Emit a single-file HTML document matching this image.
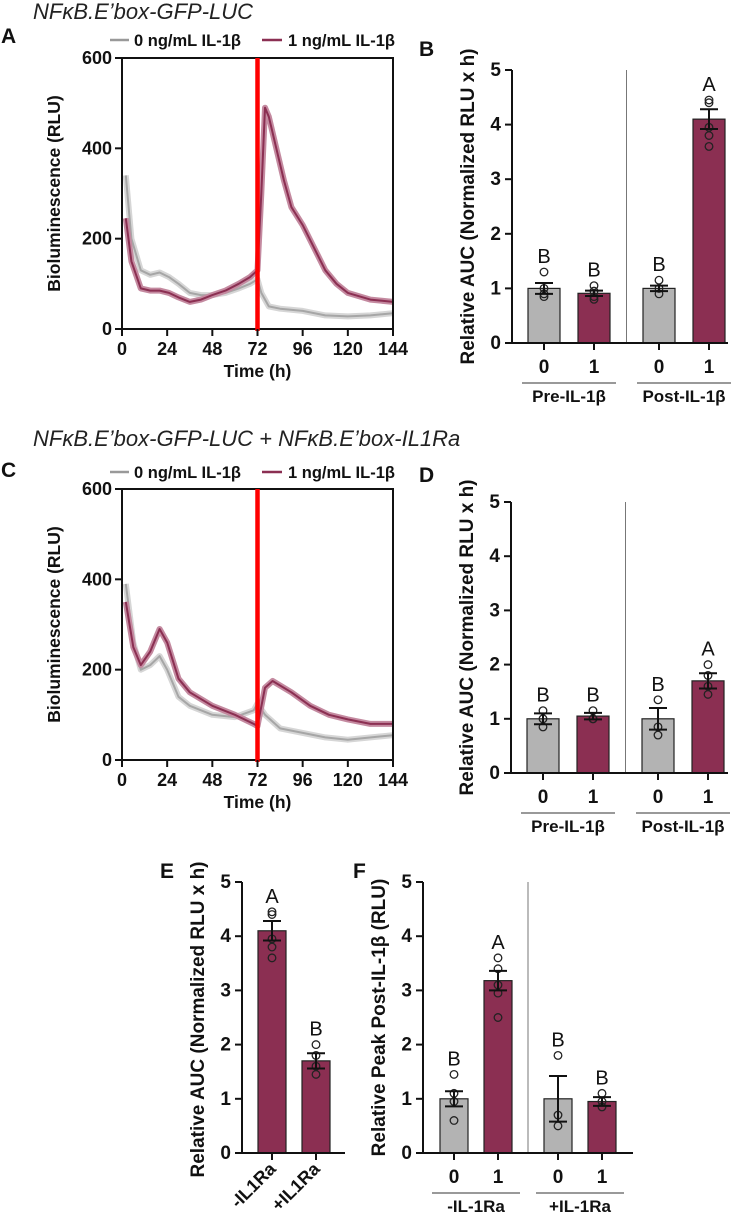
<!DOCTYPE html>
<html><head><meta charset="utf-8"><style>
body{margin:0;background:#fff}
svg{display:block;font-family:"Liberation Sans",Arial,sans-serif}
.t{font-weight:bold;fill:#111}
.pl{font-weight:bold;font-size:21px;fill:#111}
</style></head><body>
<svg id="fig" width="744" height="1220" viewBox="0 0 744 1220">
<text x="33" y="19" style="font-size:22px" font-style="italic" fill="#222">NFκB.E’box-GFP-LUC</text>
<text x="33" y="446" style="font-size:22px" font-style="italic" fill="#222">NFκB.E’box-GFP-LUC + NFκB.E’box-IL1Ra</text>
<text class="pl" x="1" y="43">A</text>
<text class="pl" x="419" y="56">B</text>
<text class="pl" x="1" y="477">C</text>
<text class="pl" x="419" y="482">D</text>
<text class="pl" x="160" y="878">E</text>
<text class="pl" x="353" y="878">F</text>
</svg>
<script>
const NS="http://www.w3.org/2000/svg";
const fig=document.getElementById('fig');
const MAROON="#8b2f52", GRAY="#b3b3b3";
// Panel A data
const timeA=[2,5,10,15,20,25,30,36,42,48,55,62,68,72,74,78,84,96,108,120,132,144];
const grayA=[340,200,130,120,125,115,100,80,75,75,80,90,100,110,80,50,45,40,30,28,30,35];
const timeAm=[2,5,10,15,20,25,30,36,42,48,55,62,68,72,74,76,78,82,86,90,96,102,108,114,120,132,144];
const maroonA=[245,150,90,85,85,80,70,60,65,75,85,100,115,130,300,490,470,400,330,270,230,180,130,100,80,65,60];
// Panel C data
const timeC=[2,6,10,15,20,24,30,36,48,60,70,72,76,84,96,108,120,144];
const grayC=[390,260,200,210,230,200,140,120,100,95,110,125,100,70,60,50,45,55];
const timeCm=[2,6,10,15,20,24,30,36,48,60,70,72,76,80,90,100,110,120,132,144];
const maroonC=[350,250,210,240,290,260,180,150,120,100,80,75,160,175,150,120,100,90,80,80];
const xTicks=[0,24,48,72,96,120,144];
const yTicksLine=[0,200,400,600];
// Bar data
const catsB=["0","1","0","1"];
const meanB=[1.0,0.91,1.0,4.1], semB=[0.1,0.05,0.05,0.18];
const dotsB=[[1.3,1.0,0.85,0.9],[1.05,0.95,0.85,0.8],[1.15,1.0,0.9],[4.45,4.4,3.95,3.8,3.6]];
const letB=["B","B","B","A"];
const meanD=[1.0,1.05,1.0,1.7], semD=[0.1,0.06,0.2,0.14];
const dotsD=[[1.15,1.0,0.85],[1.15,1.0,1.0],[1.35,0.85,0.7],[2.0,1.8,1.6,1.45]];
const letD=["B","B","B","A"];
const catsE=["-IL1Ra","+IL1Ra"];
const meanE=[4.1,1.7], semE=[0.18,0.14];
const dotsE=[[4.45,4.4,3.95,3.8,3.6],[2.0,1.8,1.6,1.45]];
const letE=["A","B"];
const meanF=[1.0,3.18,1.0,0.95], semF=[0.14,0.18,0.42,0.08];
const dotsF=[[1.45,1.1,0.95,0.6],[3.6,3.4,3.1,2.95,2.5],[1.8,0.7,0.5],[1.1,0.95,0.85]];
const letF=["B","A","B","B"];
const yTicksBar=[0,1,2,3,4,5];

function el(tag,attrs,parent){const e=document.createElementNS(NS,tag);for(const k in attrs)e.setAttribute(k,attrs[k]);(parent||fig).appendChild(e);return e;}
function txt(x,y,s,size,anchor,parent,weight){const t=el('text',{x:x,y:y,'class':'t','text-anchor':anchor||'middle'},parent);t.style.fontSize=(size||17)+'px';if(weight)t.style.fontWeight=weight;t.textContent=s;return t;}

function lineChart(p,tg,gv,tm,mv,legY){
  const sx=t=>p.x0+(p.x1-p.x0)*t/144, sy=v=>p.yb-(p.yb-p.yt)*v/600;
  const g=el('g',{});
  
  
  function series(ts,vs,col,band,name){
    const d=ts.map((t,i)=>(i?'L':'M')+sx(t).toFixed(1)+','+sy(vs[i]).toFixed(1)).join('');
    const b=el('path',{d:d,fill:'none',stroke:band,'stroke-width':6,'stroke-linejoin':'round'},g);
    
    
    const l=el('path',{d:d,fill:'none',stroke:col,'stroke-width':2,'stroke-linejoin':'round'},g);
    
    
  }
  series(tg,gv,'#a6a6a6','#d6d6d6','series-0ng');
  series(tm,mv,MAROON,'#c48aa0','series-1ng');
  el('rect',{x:p.x0,y:p.yt,width:p.x1-p.x0,height:p.yb-p.yt,fill:'none',stroke:'#111','stroke-width':2},g);
  const red=el('line',{x1:sx(72),x2:sx(72),y1:p.yt,y2:p.yb+2,stroke:'#ff0000','stroke-width':4.5},g);
  
  
  xTicks.forEach(t=>{el('line',{x1:sx(t),x2:sx(t),y1:p.yb,y2:p.yb+7,stroke:'#111','stroke-width':2},g);txt(sx(t),p.yb+26,String(t),18,'middle',g);});
  yTicksLine.forEach(v=>{el('line',{x1:p.x0-7,x2:p.x0,y1:sy(v),y2:sy(v),stroke:'#111','stroke-width':2},g);txt(p.x0-10,sy(v)+6,String(v),18,'end',g);});
  const yt=txt(0,0,'Bioluminescence (RLU)',17.5,'middle',g);
  yt.setAttribute('transform','translate('+(p.x0-62)+','+((p.yt+p.yb)/2)+') rotate(-90)');
  
  
  const xt=txt((p.x0+p.x1)/2,p.yb+48,'Time (h)',17.5,'middle',g);
  
  
  const lg=el('g',{},g);
  
  
  el('line',{x1:110,x2:129,y1:legY,y2:legY,stroke:'#999','stroke-width':2.5},lg);
  txt(134,legY+6,'0 ng/mL IL-1β',16.5,'start',lg);
  el('line',{x1:262,x2:282,y1:legY,y2:legY,stroke:MAROON,'stroke-width':2.5},lg);
  txt(288,legY+6,'1 ng/mL IL-1β',16.5,'start',lg);
}
lineChart({x0:122,x1:393,yt:58,yb:329,name:'panel-a-timecourse'},timeA,grayA,timeAm,maroonA,40);
lineChart({x0:122,x1:393,yt:489,yb:760,name:'panel-c-timecourse'},timeC,grayC,timeCm,maroonC,472);

function barChart(p,cats,means,sems,dots,lets,cols){
  const sy=v=>p.yb-(p.yb-p.yt)*v/5;
  const cx=i=>p.x0+p.off+i*p.sp+(p.gap&&i>=2?p.gap:0);
  const g=el('g',{});
  
  
  if(p.gap){const dv=el('line',{x1:(cx(1)+cx(2))/2,x2:(cx(1)+cx(2))/2,y1:p.yt,y2:p.yb,stroke:'#777','stroke-width':1},g);
    
    }
  means.forEach((m,i)=>{
    const x=cx(i),w=p.bw;
    const r=el('rect',{x:x-w/2,y:sy(m),width:w,height:sy(0)-sy(m),fill:cols[i],stroke:'#222','stroke-width':1.2},g);
    
    
    dots[i].forEach(d=>{const c=el('circle',{cx:x,cy:sy(d),r:3.8,fill:'none',stroke:'#222','stroke-width':1.3},g);
      
      });
    const e=el('path',{d:'M'+x+','+sy(m-sems[i])+'V'+sy(m+sems[i])+'M'+(x-9)+','+sy(m+sems[i])+'h18M'+(x-9)+','+sy(m-sems[i])+'h18',stroke:'#111','stroke-width':2,fill:'none'},g);
    
    
    const top=Math.max(m+sems[i],Math.max(...dots[i]));
    const lt=txt(x,sy(top)-9,lets[i],20,'middle',g,'normal');
    
    
    el('line',{x1:x,x2:x,y1:p.yb,y2:p.yb+7,stroke:'#111','stroke-width':2},g);
    if(p.rot){const t=txt(0,0,cats[i],18,'end',g);
      t.setAttribute('transform','translate('+(x+5)+','+(p.yb+17)+') rotate(-45)');}
    else txt(x,p.yb+30,cats[i],19,'middle',g);
  });
  el('line',{x1:p.x0,x2:p.x0,y1:p.yt,y2:p.yb+1,stroke:'#111','stroke-width':2},g);
  el('line',{x1:p.x0-1,x2:p.x1,y1:p.yb,y2:p.yb,stroke:'#111','stroke-width':2},g);
  yTicksBar.forEach(v=>{el('line',{x1:p.x0-7,x2:p.x0,y1:sy(v),y2:sy(v),stroke:'#111','stroke-width':2},g);txt(p.x0-11,sy(v)+6,String(v),19,'end',g);});
  const yt=txt(0,0,p.ytitle,19,'middle',g);
  yt.setAttribute('transform','translate('+(p.x0-38)+','+((p.yt+p.yb)/2+(p.rot?2:0))+') rotate(-90)');
  
  
  if(p.groups){p.groups.forEach((gl,k)=>{const a=cx(2*k),b=cx(2*k+1);
    el('line',{x1:a-22,x2:b+22,y1:p.yb+40,y2:p.yb+40,stroke:'#333','stroke-width':1},g);
    const t=txt((a+b)/2,p.yb+59,gl,17,'middle',g);
    
    });}
}
const C4=[GRAY,MAROON,GRAY,MAROON];
barChart({name:'panel-b-auc',x0:512,x1:728,yt:70,yb:343,off:32,sp:50,gap:15,bw:32,ytitle:'Relative AUC (Normalized RLU x h)',groups:['Pre-IL-1β','Post-IL-1β']},catsB,meanB,semB,dotsB,letB,C4);
barChart({name:'panel-d-auc',x0:511,x1:728,yt:502,yb:773,off:32,sp:50,gap:15,bw:32,ytitle:'Relative AUC (Normalized RLU x h)',groups:['Pre-IL-1β','Post-IL-1β']},catsB,meanD,semD,dotsD,letD,C4);
barChart({name:'panel-e-auc',x0:242,x1:345,yt:882,yb:1153,off:30,sp:44,gap:0,bw:28,rot:true,ytitle:'Relative AUC (Normalized RLU x h)'},catsE,meanE,semE,dotsE,letE,[MAROON,MAROON]);
barChart({name:'panel-f-peak',x0:423,x1:633,yt:882,yb:1153,off:31,sp:44,gap:16,bw:28,ytitle:'Relative Peak Post-IL-1β (RLU)',groups:['-IL-1Ra','+IL-1Ra']},catsB,meanF,semF,dotsF,letF,C4);
</script>
</body></html>
